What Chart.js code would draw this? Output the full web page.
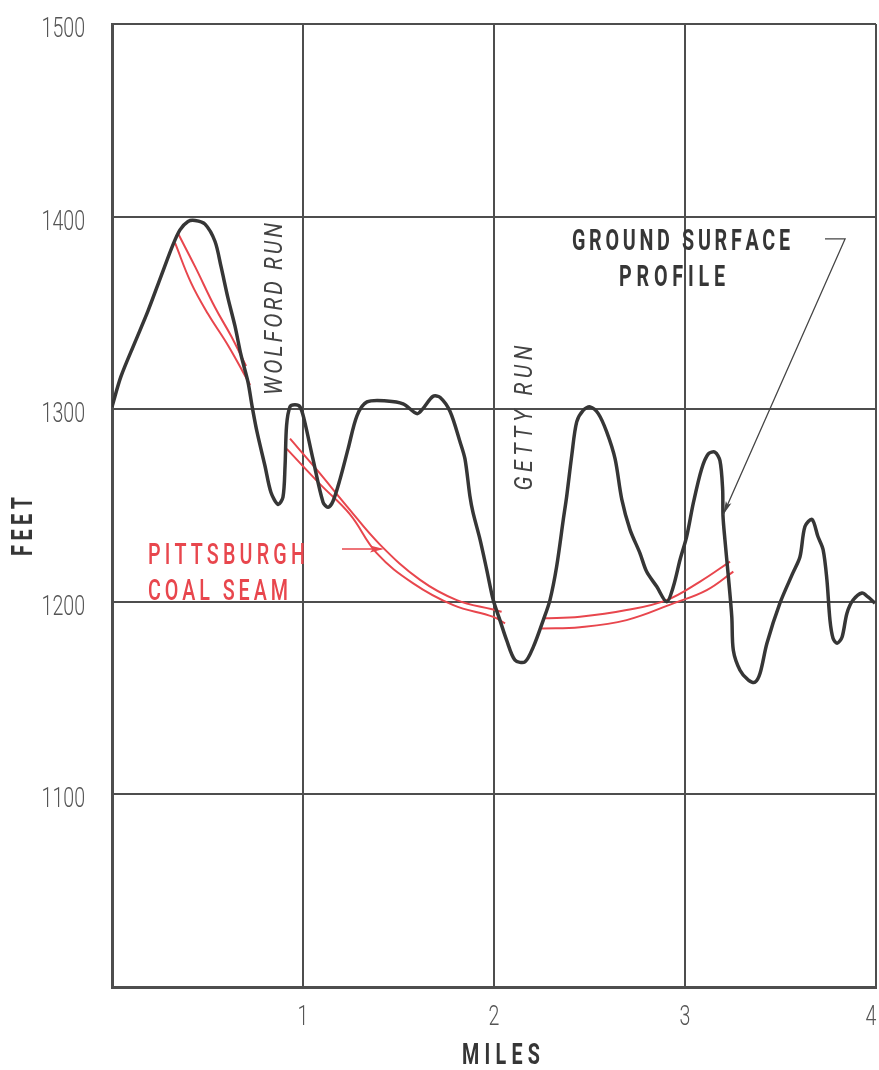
<!DOCTYPE html>
<html>
<head>
<meta charset="utf-8">
<title>Ground Surface Profile and Pittsburgh Coal Seam</title>
<script src="https://cdn.jsdelivr.net/npm/chart.js@4.4.1/dist/chart.umd.min.js"></script>
<style>
  html, body { margin: 0; padding: 0; background: #ffffff; }
  #wrap { width: 879px; height: 1070px; }
  canvas { display: block; }
</style>
</head>
<body>
<div id="wrap"><canvas id="profile" width="879" height="1070"></canvas></div>
<script>
// Axis ranges and labelled ticks
const milesRange = [0, 4];
const feetRange = [1000, 1500];
const milesTicks = [1, 2, 3, 4];
const feetTicks = [1100, 1200, 1300, 1400, 1500];

// Ground surface profile: distance (miles) and elevation (feet)
const groundMiles = [0.000, 0.047, 0.120, 0.188, 0.257, 0.319, 0.356, 0.398, 0.435, 0.487,
  0.539, 0.571, 0.607, 0.644, 0.675, 0.712, 0.733, 0.759, 0.801, 0.832,
  0.869, 0.895, 0.906, 0.914, 0.932, 0.958, 0.984, 1.005, 1.052, 1.105,
  1.131, 1.157, 1.194, 1.236, 1.283, 1.335, 1.440, 1.524, 1.597, 1.628,
  1.681, 1.717, 1.770, 1.822, 1.848, 1.874, 1.890, 1.927, 1.962, 1.996,
  2.031, 2.066, 2.110, 2.162, 2.206, 2.258, 2.293, 2.328, 2.363, 2.381,
  2.407, 2.433, 2.468, 2.503, 2.546, 2.590, 2.634, 2.669, 2.712, 2.764,
  2.799, 2.852, 2.904, 2.939, 2.974, 3.009, 3.044, 3.087, 3.122, 3.157,
  3.183, 3.197, 3.199, 3.209, 3.227, 3.245, 3.253, 3.288, 3.332, 3.366,
  3.393, 3.429, 3.497, 3.565, 3.602, 3.628, 3.665, 3.696, 3.723, 3.743,
  3.759, 3.775, 3.796, 3.822, 3.848, 3.880, 3.927, 3.958, 3.995];
const groundFeet = [1301.3, 1317.0, 1334.7, 1350.9, 1369.1, 1385.3, 1393.1, 1397.5, 1398.0, 1396.1,
  1387.2, 1374.0, 1357.8, 1343.1, 1328.3, 1314.1, 1301.8, 1288.3, 1270.5, 1256.9,
  1250.6, 1254.3, 1270.5, 1291.5, 1301.3, 1302.3, 1301.3, 1295.1, 1274.2, 1251.7,
  1249.1, 1252.2, 1263.7, 1279.4, 1296.7, 1303.8, 1304.3, 1302.8, 1297.7, 1300.3,
  1306.7, 1306.2, 1298.8, 1283.1, 1274.2, 1254.8, 1246.4, 1232.3, 1216.6, 1200.9,
  1190.5, 1180.1, 1169.7, 1168.8, 1176.6, 1190.5, 1200.9, 1218.3, 1242.8, 1255.1,
  1275.9, 1293.4, 1299.5, 1301.2, 1297.7, 1288.2, 1274.2, 1253.2, 1237.5, 1225.3,
  1215.7, 1207.9, 1200.0, 1207.9, 1221.8, 1234.0, 1251.5, 1269.0, 1276.8, 1277.7,
  1273.3, 1258.5, 1244.5, 1232.3, 1213.1, 1192.2, 1174.9, 1164.5, 1159.3, 1158.2,
  1162.9, 1178.5, 1199.3, 1215.0, 1223.4, 1239.1, 1242.8, 1233.9, 1227.1, 1211.4,
  1190.5, 1181.1, 1178.5, 1181.6, 1194.1, 1200.9, 1204.6, 1202.5, 1199.3];

// Pittsburgh coal seam, drawn as a pair of lines in three reaches [miles, feet]
const seamTopWest = [[0.346, 1391.2], [0.435, 1374.0], [0.539, 1352.9], [0.623, 1338.1], [0.702, 1322.4]];
const seamBaseWest = [[0.330, 1386.3], [0.414, 1365.6], [0.503, 1349.4], [0.607, 1333.2], [0.723, 1312.6]];
const seamTopMiddle = [[0.932, 1284.7], [1.072, 1268.6], [1.229, 1249.7], [1.403, 1229.7],
  [1.613, 1211.4], [1.805, 1200.9], [1.996, 1196.0], [2.040, 1194.8]];
const seamBaseMiddle = [[0.915, 1279.4], [1.089, 1261.1], [1.246, 1245.4], [1.386, 1225.3],
  [1.577, 1209.6], [1.787, 1198.3], [1.996, 1192.2], [2.058, 1188.8]];
const seamTopEast = [[2.257, 1191.4], [2.450, 1192.3], [2.694, 1195.7], [2.904, 1200.9],
  [3.079, 1210.5], [3.236, 1220.9]];
const seamBaseEast = [[2.250, 1186.2], [2.450, 1186.8], [2.694, 1190.5], [2.939, 1199.2],
  [3.114, 1206.1], [3.253, 1215.7]];

const INK = '#363636';
const GRID = '#4e4e4e';
const RED = '#e8464d';
const FONT = 'Roboto, "DejaVu Sans", "Liberation Sans", sans-serif';

const groundPoints = groundMiles.map((m, i) => ({ x: m, y: groundFeet[i] }));
const toPoints = pairs => pairs.map(([x, y]) => ({ x, y }));

function seamDataset(pairs) {
  return {
    data: toPoints(pairs),
    borderColor: RED,
    borderWidth: 2,
    tension: 0.4,
    pointRadius: 0,
    fill: false
  };
}

// Hand-lettered text: condensed glyphs with open letter spacing
function letter(ctx, text, x, y, o) {
  ctx.save();
  ctx.font = `${o.style || 'normal'} ${o.weight || 400} ${o.size}px ${FONT}`;
  ctx.fillStyle = o.color || INK;
  ctx.textBaseline = 'alphabetic';
  ctx.textAlign = 'left';
  ctx.translate(x, y);
  if (o.rot) ctx.rotate(o.rot);
  ctx.scale(o.sx, 1);
  const chars = Array.from(text);
  const widths = chars.map(c => ctx.measureText(c).width);
  const natural = widths.reduce((a, b) => a + b, 0);
  const gap = o.width ? (o.width / o.sx - natural) / Math.max(chars.length - 1, 1) : 0;
  const total = natural + gap * (chars.length - 1);
  let cx = o.align === 'left' ? 0 : o.align === 'right' ? -total : -total / 2;
  const base = o.size * 0.355;
  chars.forEach((c, i) => {
    ctx.fillText(c, cx, base);
    cx += widths[i] + gap;
  });
  ctx.restore();
}

function arrowHead(ctx, x0, y0, x1, y1, len, half, color) {
  const a = Math.atan2(y1 - y0, x1 - x0);
  ctx.save();
  ctx.fillStyle = color;
  ctx.translate(x1, y1);
  ctx.rotate(a);
  ctx.beginPath();
  ctx.moveTo(0, 0);
  ctx.lineTo(-len, -half);
  ctx.lineTo(-len * 0.8, 0);
  ctx.lineTo(-len, half);
  ctx.closePath();
  ctx.fill();
  ctx.restore();
}

const lettering = {
  id: 'lettering',
  afterDraw(chart) {
    const ctx = chart.ctx;
    const xs = chart.scales.x;
    const ys = chart.scales.y;
    const area = chart.chartArea;
    const px = v => xs.getPixelForValue(v);
    const py = v => ys.getPixelForValue(v);

    // Tick labels
    const tickStyle = { size: 28, weight: 300, color: '#555555', sx: 0.7 };
    feetTicks.forEach(v => {
      letter(ctx, String(v), area.left - 27, py(v) + 3, Object.assign({ align: 'right' }, tickStyle));
    });
    milesTicks.forEach(v => {
      const x = Math.min(px(v), area.right - 5);
      letter(ctx, String(v), x, area.bottom + 28, tickStyle);
    });

    // Axis titles
    const title = { size: 29, weight: 700, color: INK, sx: 0.68 };
    letter(ctx, 'FEET', area.left - 90, (area.top + area.bottom) / 2 + 21,
      Object.assign({ width: 59, rot: -Math.PI / 2 }, title));
    letter(ctx, 'MILES', (area.left + area.right) / 2 + 7, area.bottom + 67,
      Object.assign({ width: 78 }, title));

    // Stream names
    const stream = { size: 26, weight: 400, style: 'italic', color: '#444444', sx: 0.82, rot: -Math.PI / 2 };
    letter(ctx, 'WOLFORD RUN', px(0.843), py(1352.0), Object.assign({ width: 172 }, stream));
    letter(ctx, 'GETTY RUN', px(2.152), py(1295.4), Object.assign({ width: 145 }, stream));

    // Ground surface callout
    letter(ctx, 'GROUND SURFACE', px(2.979), py(1387.9), Object.assign({ width: 218 }, title));
    letter(ctx, 'PROFILE', px(2.932), py(1369.2), Object.assign({ width: 106 }, title));
    ctx.save();
    ctx.strokeStyle = '#444444';
    ctx.lineWidth = 1.3;
    ctx.beginPath();
    ctx.moveTo(px(3.733), py(1388.4));
    ctx.lineTo(px(3.838), py(1388.4));
    ctx.lineTo(px(3.199), py(1245.1));
    ctx.stroke();
    ctx.restore();
    arrowHead(ctx, px(3.838), py(1388.4), px(3.199), py(1245.1), 14, 3, '#444444');

    // Coal seam callout
    const seam = { size: 29, weight: 500, color: RED, sx: 0.68, align: 'left' };
    letter(ctx, 'PITTSBURGH', px(0.188), py(1224.8), Object.assign({ width: 157 }, seam));
    letter(ctx, 'COAL SEAM', px(0.188), py(1206.1), Object.assign({ width: 140 }, seam));
    ctx.save();
    ctx.strokeStyle = RED;
    ctx.lineWidth = 1.5;
    ctx.beginPath();
    ctx.moveTo(px(1.204), py(1227.4));
    ctx.lineTo(px(1.410), py(1227.4));
    ctx.stroke();
    ctx.restore();
    arrowHead(ctx, px(1.204), py(1227.4), px(1.424), py(1227.4), 14, 3.5, RED);
  }
};

const gridStyle = { color: GRID, lineWidth: 2, drawTicks: false };

new Chart(document.getElementById('profile').getContext('2d'), {
  type: 'line',
  data: {
    datasets: [
      {
        data: groundPoints,
        borderColor: INK,
        borderWidth: 3.5,
        tension: 0.3,
        pointRadius: 0,
        fill: false
      },
      seamDataset(seamTopWest),
      seamDataset(seamBaseWest),
      seamDataset(seamTopMiddle),
      seamDataset(seamBaseMiddle),
      seamDataset(seamTopEast),
      seamDataset(seamBaseEast)
    ]
  },
  options: {
    responsive: false,
    animation: false,
    devicePixelRatio: 1,
    layout: { padding: { left: 112, right: 3, top: 24, bottom: 83 }, autoPadding: false },
    plugins: { legend: { display: false }, tooltip: { enabled: false } },
    scales: {
      x: {
        type: 'linear',
        min: milesRange[0],
        max: milesRange[1],
        ticks: { stepSize: 1, display: false },
        grid: gridStyle,
        border: { display: true, color: GRID, width: 3 }
      },
      y: {
        type: 'linear',
        min: feetRange[0],
        max: feetRange[1],
        ticks: { stepSize: 100, display: false },
        grid: gridStyle,
        border: { display: true, color: GRID, width: 3 }
      }
    }
  },
  plugins: [lettering]
});
</script>
</body>
</html>
